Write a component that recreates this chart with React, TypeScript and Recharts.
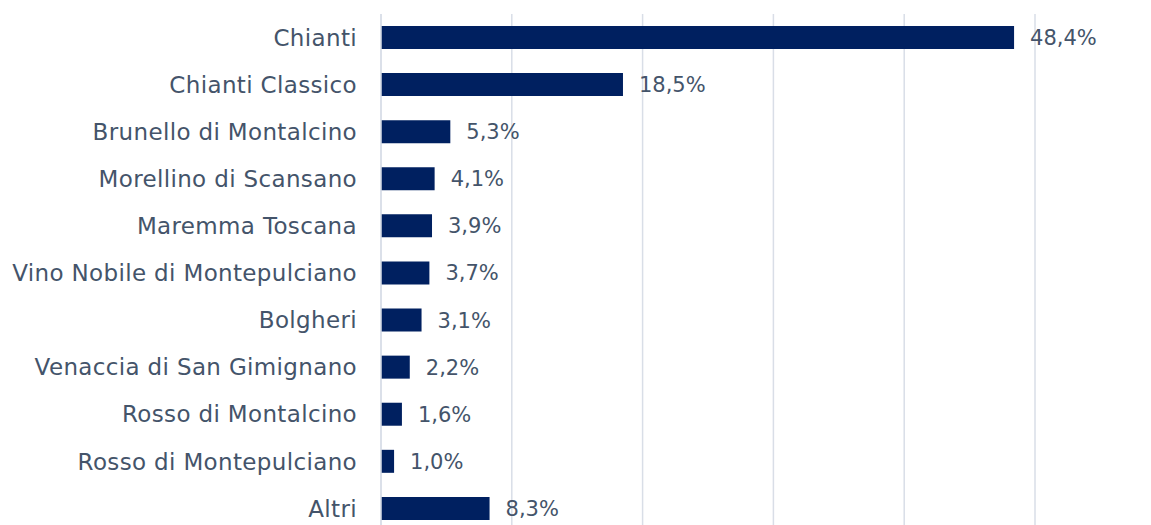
import React from 'react';
import { BarChart, Bar, XAxis, YAxis, CartesianGrid, LabelList } from 'recharts';

const categories = [
  'Chianti',
  'Chianti Classico',
  'Brunello di Montalcino',
  'Morellino di Scansano',
  'Maremma Toscana',
  'Vino Nobile di Montepulciano',
  'Bolgheri',
  'Venaccia di San Gimignano',
  'Rosso di Montalcino',
  'Rosso di Montepulciano',
  'Altri',
];
const values = [48.4, 18.5, 5.3, 4.1, 3.9, 3.7, 3.1, 2.2, 1.6, 1.0, 8.3];
const xTicks = [0, 10, 20, 30, 40, 50];

const data = categories.map((name, i) => ({ name, value: values[i] }));

const FONT = 'DejaVu Sans';
const TEXT = '#44546A';

export default function App() {
  return (
    <div style={{ position: 'absolute', left: 0, top: 0, width: 1151, height: 525, overflow: 'hidden', background: '#fff' }}>
      <BarChart
        width={1151}
        height={540}
        data={data}
        layout="vertical"
        margin={{ top: 14, right: 116, bottom: 8, left: 0 }}
        barCategoryGap={12}
      >
        <CartesianGrid horizontal={false} vertical stroke="#D9DEE7" strokeWidth={1.5} />
        <XAxis type="number" domain={[0, 50]} ticks={xTicks} hide />
        <YAxis
          type="category"
          dataKey="name"
          width={381}
          tickLine={false}
          tickSize={0}
          tickMargin={24}
          axisLine={{ stroke: '#D9DEE7', strokeWidth: 1.5 }}
          tick={{ fill: TEXT, fontSize: 23, fontFamily: FONT, letterSpacing: 0.35 }}
          interval={0}
        />
        <Bar dataKey="value" fill="#002060" barSize={23} isAnimationActive={false}>
          <LabelList
            dataKey="value"
            position="right"
            offset={16}
            formatter={(v: number) => v.toFixed(1).replace('.', ',') + '%'}
            style={{ fill: TEXT, fontSize: 21, fontFamily: FONT }}
          />
        </Bar>
      </BarChart>
    </div>
  );
}
